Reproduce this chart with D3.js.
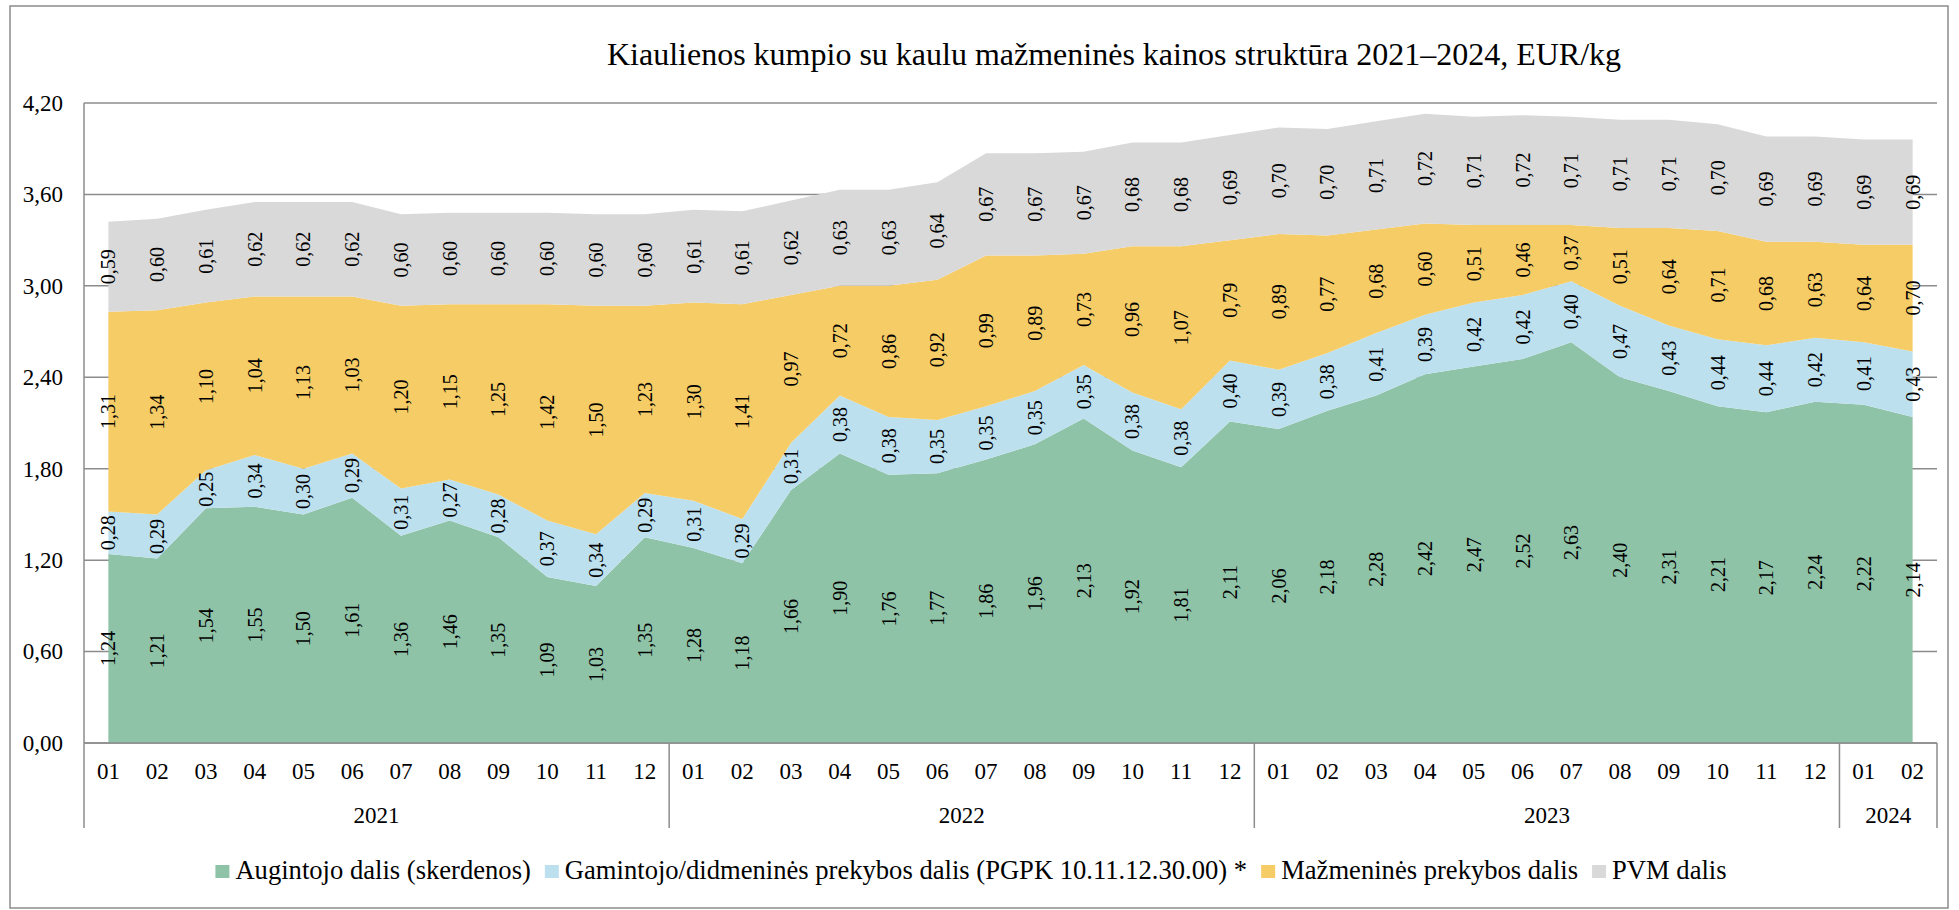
<!DOCTYPE html>
<html>
<head>
<meta charset="utf-8">
<script src="https://cdn.jsdelivr.net/npm/d3@7"></script>
<style>
    body { margin: 0; background: #fff; }
    svg, svg g, svg text { font-family: "Liberation Serif", "Times New Roman", serif; }
    .grid line { stroke: #8c8c8c; stroke-width: 1.5; }
    .axis text { font-size: 23px; fill: #000; }
    .lbl { font-size: 20px; fill: #000; }
</style>
</head>
<body>
<svg id="chart" width="1959" height="910"></svg>
<script>
"use strict";

// data, 2021-01 .. 2024-02
const months = ["01", "02", "03", "04", "05", "06", "07", "08", "09", "10", "11", "12",
    "01", "02", "03", "04", "05", "06", "07", "08", "09", "10", "11", "12",
    "01", "02", "03", "04", "05", "06", "07", "08", "09", "10", "11", "12",
    "01", "02"];
const years = ["2021", "2022", "2023", "2024"];
const yearCounts = [12, 12, 12, 2];

const augintojo = [1.24, 1.21, 1.54, 1.55, 1.50, 1.61, 1.36, 1.46, 1.35, 1.09, 1.03, 1.35,
    1.28, 1.18, 1.66, 1.90, 1.76, 1.77, 1.86, 1.96, 2.13, 1.92, 1.81, 2.11,
    2.06, 2.18, 2.28, 2.42, 2.47, 2.52, 2.63, 2.40, 2.31, 2.21, 2.17, 2.24,
    2.22, 2.14];
const gamintojo = [0.28, 0.29, 0.25, 0.34, 0.30, 0.29, 0.31, 0.27, 0.28, 0.37, 0.34, 0.29,
    0.31, 0.29, 0.31, 0.38, 0.38, 0.35, 0.35, 0.35, 0.35, 0.38, 0.38, 0.40,
    0.39, 0.38, 0.41, 0.39, 0.42, 0.42, 0.40, 0.47, 0.43, 0.44, 0.44, 0.42,
    0.41, 0.43];
const mazmenines = [1.31, 1.34, 1.10, 1.04, 1.13, 1.03, 1.20, 1.15, 1.25, 1.42, 1.50, 1.23,
    1.30, 1.41, 0.97, 0.72, 0.86, 0.92, 0.99, 0.89, 0.73, 0.96, 1.07, 0.79,
    0.89, 0.77, 0.68, 0.60, 0.51, 0.46, 0.37, 0.51, 0.64, 0.71, 0.68, 0.63,
    0.64, 0.70];
const pvm = [0.59, 0.60, 0.61, 0.62, 0.62, 0.62, 0.60, 0.60, 0.60, 0.60, 0.60, 0.60,
    0.61, 0.61, 0.62, 0.63, 0.63, 0.64, 0.67, 0.67, 0.67, 0.68, 0.68, 0.69,
    0.70, 0.70, 0.71, 0.72, 0.71, 0.72, 0.71, 0.71, 0.71, 0.70, 0.69, 0.69,
    0.69, 0.69];

const seriesNames = ["Augintojo dalis (skerdenos)",
    "Gamintojo/didmeninės prekybos dalis (PGPK 10.11.12.30.00) *",
    "Mažmeninės prekybos dalis",
    "PVM dalis"];
const yTicks = [0, 0.6, 1.2, 1.8, 2.4, 3.0, 3.6, 4.2];
const title = "Kiaulienos kumpio su kaulu mažmeninės kainos struktūra 2021–2024, EUR/kg";

const COLORS = ["#8fc3a7", "#bde0ef", "#f5cc66", "#d9d9d9"];

const plot = { left: 84, right: 1937, top: 103, bottom: 743, axisBottom: 828 };

const fmt = d3.formatLocale({ decimal: ",", thousands: " ", grouping: [3], currency: ["", ""] }).format(".2f");

const svg = d3.select("#chart");

// outer frame
svg.append("rect")
    .attr("x", 10).attr("y", 6).attr("width", 1938).attr("height", 902)
    .attr("fill", "none").attr("stroke", "#8c8c8c").attr("stroke-width", 1.5);

svg.append("text")
    .attr("x", 1114).attr("y", 65)
    .attr("text-anchor", "middle")
    .style("font-size", "32px")
    .text(title);

const x = d3.scaleBand().domain(d3.range(months.length)).range([plot.left, plot.right]);
const cx = (i) => x(i) + x.bandwidth() / 2;
const y = d3.scaleLinear().domain([0, 4.2]).range([plot.bottom, plot.top]);

// gridlines (behind the areas)
svg.append("g").attr("class", "grid")
    .selectAll("line").data(yTicks).join("line")
    .attr("x1", plot.left).attr("x2", plot.right)
    .attr("y1", (d) => y(d)).attr("y2", (d) => y(d));

const rows = months.map((m, i) => ({ i, a: augintojo[i], g: gamintojo[i], m: mazmenines[i], p: pvm[i] }));
const stacked = d3.stack().keys(["a", "g", "m", "p"])(rows);

const area = d3.area()
    .x((d) => cx(d.data.i))
    .y0((d) => y(d[0]))
    .y1((d) => y(d[1]));

svg.append("g").selectAll("path").data(stacked).join("path")
    .attr("fill", (d, k) => COLORS[k])
    .attr("d", area);

// value labels, rotated
stacked.forEach((s) => {
    svg.append("g").selectAll("text").data(s).join("text")
        .attr("class", "lbl")
        .attr("transform", (d) => `translate(${cx(d.data.i)},${y((d[0] + d[1]) / 2)}) rotate(-90)`)
        .attr("text-anchor", "middle")
        .attr("dy", "0.35em")
        .text((d) => fmt(d[1] - d[0]));
});

// y axis
const yAxis = svg.append("g").attr("class", "axis")
    .attr("transform", `translate(${plot.left},0)`)
    .call(d3.axisLeft(y).tickValues(yTicks).tickSize(0).tickPadding(21).tickFormat(fmt));
yAxis.attr("font-family", null).attr("font-size", null);
yAxis.select(".domain").remove();
yAxis.selectAll("text").attr("dy", "0.32em");

svg.append("line")
    .attr("x1", plot.left).attr("x2", plot.left)
    .attr("y1", plot.top).attr("y2", plot.axisBottom)
    .attr("stroke", "#8c8c8c").attr("stroke-width", 1.5);

// x axis, months
const xAxis = svg.append("g").attr("class", "axis")
    .attr("transform", `translate(0,${plot.bottom})`)
    .call(d3.axisBottom(x).tickSize(0).tickPadding(20).tickFormat((i) => months[i]));
xAxis.attr("font-family", null).attr("font-size", null);
xAxis.select(".domain").remove();

svg.append("line")
    .attr("x1", plot.left).attr("x2", plot.right)
    .attr("y1", plot.bottom).attr("y2", plot.bottom)
    .attr("stroke", "#8c8c8c").attr("stroke-width", 1.5);

// year groups
let start = 0;
const yearG = svg.append("g").attr("class", "axis");
years.forEach((yr, k) => {
    const end = start + yearCounts[k];
    const x0 = x(start);
    const x1 = end >= months.length ? plot.right : x(end);
    yearG.append("line")
        .attr("x1", x1).attr("x2", x1)
        .attr("y1", plot.bottom).attr("y2", plot.axisBottom)
        .attr("stroke", "#8c8c8c").attr("stroke-width", 1.5);
    yearG.append("text")
        .attr("x", (x0 + x1) / 2).attr("y", 823)
        .attr("text-anchor", "middle")
        .text(yr);
    start = end;
});

// legend
const legend = svg.append("g").style("font-size", "26.6px");
let lx = 0;
seriesNames.forEach((name, k) => {
    const item = legend.append("g").attr("transform", `translate(${lx},0)`);
    item.append("rect").attr("x", 0).attr("y", -14).attr("width", 14).attr("height", 13).attr("fill", COLORS[k]);
    const t = item.append("text").attr("x", 20).attr("y", 0).text(name);
    lx += 20 + t.node().getComputedTextLength() + 14;
});
legend.attr("transform", `translate(${971 - (lx - 14) / 2},879)`);
</script>
</body>
</html>
